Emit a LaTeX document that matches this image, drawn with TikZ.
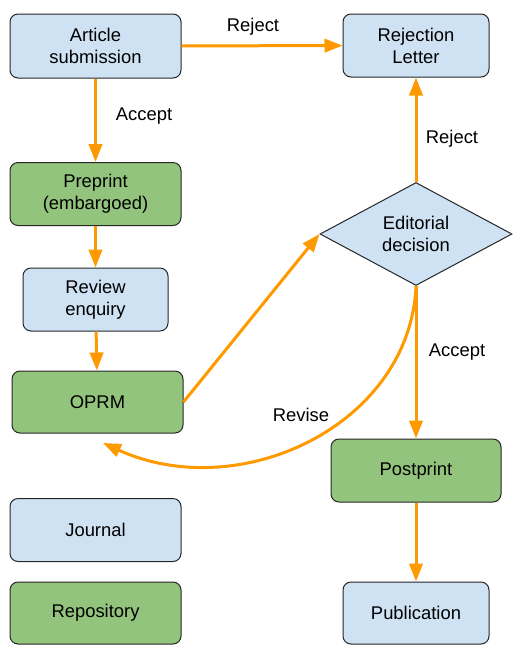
\documentclass[tikz,border=0pt]{standalone}
\usepackage{fontspec}
\setmainfont{Liberation Sans}
\usepackage{tikz}
\usetikzlibrary{arrows.meta}
\usetikzlibrary{shapes.geometric}

\definecolor{journalblue}{HTML}{CFE2F3}
\definecolor{repogreen}{HTML}{93C47D}
\definecolor{flowor}{HTML}{FF9900}

\tikzset{
  box/.style={draw=black!85, line width=0.75pt, rounded corners=6pt, align=center,
    inner sep=0pt, font=\fontsize{13.8}{16.5}\selectfont},
  jbox/.style={box, fill=journalblue},
  rbox/.style={box, fill=repogreen},
  flow/.style={draw=flowor, line width=2.25pt,
    -{Triangle[length=13.5pt, width=10pt]}},
  lbl/.style={font=\fontsize{13.8}{16.5}\selectfont}
}

\begin{document}
\begin{tikzpicture}[x=0.75pt, y=-0.75pt]
        \useasboundingbox (0,0) rectangle (524,658);

        \node[jbox, minimum width=128.25pt, minimum height=48pt] (submission) at (95.5,46) {Article\\submission};
        \node[jbox, minimum width=109.5pt, minimum height=47.25pt] (rejection) at (416,45.5) {Rejection\\Letter};
        \node[rbox, minimum width=128.25pt, minimum height=47.25pt] (preprint) at (95.5,194) {Preprint\\(embargoed)};
        \node[jbox, minimum width=108.75pt, minimum height=47.25pt] (enquiry) at (95.5,299.5) {Review\\enquiry};
        \node[rbox, minimum width=128.25pt, minimum height=46.5pt] (oprm) at (97.5,402) {OPRM};
        \node[diamond, draw=black!85, line width=0.75pt, fill=journalblue, aspect=1.87, inner sep=0pt,
          minimum width=144pt, minimum height=77.25pt, align=center,
          font=\fontsize{13.8}{16.5}\selectfont] (decision) at (416,234) {Editorial\\decision};
        \node[rbox, minimum width=127.5pt, minimum height=47.25pt] (postprint) at (416,470.5) {Postprint};
        \node[jbox, minimum width=128.25pt, minimum height=47.25pt] (journal) at (95.5,530) {Journal};
        \node[rbox, minimum width=128.25pt, minimum height=46.5pt] (repository) at (95.5,613) {Repository};
        \node[jbox, minimum width=109.5pt, minimum height=46.5pt] (publication) at (416,613) {Publication};

        \coordinate (revisetip) at (103,443);

        \draw[flow] (submission) -- (rejection);
        \draw[flow] (submission) -- (preprint);
        \draw[flow] (preprint) -- (enquiry);
        \draw[flow] (enquiry) -- (oprm);
        \draw[flow] (oprm.east) -- (decision.west);
        \draw[flow] (decision) -- (rejection);
        \draw[flow] (decision) -- (postprint);
        \draw[flow] (decision.south) .. controls (410,425) and (240,505) .. (revisetip);
        \draw[flow] (postprint) -- (publication);

        \node[lbl] (lreject1) at (253,27) {Reject};
        \node[lbl] (laccept1) at (144,116) {Accept};
        \node[lbl] (lreject2) at (452,139) {Reject};
        \node[lbl] (laccept2) at (457,352) {Accept};
        \node[lbl] (lrevise) at (301,415) {Revise};
    \end{tikzpicture}
\end{document}
